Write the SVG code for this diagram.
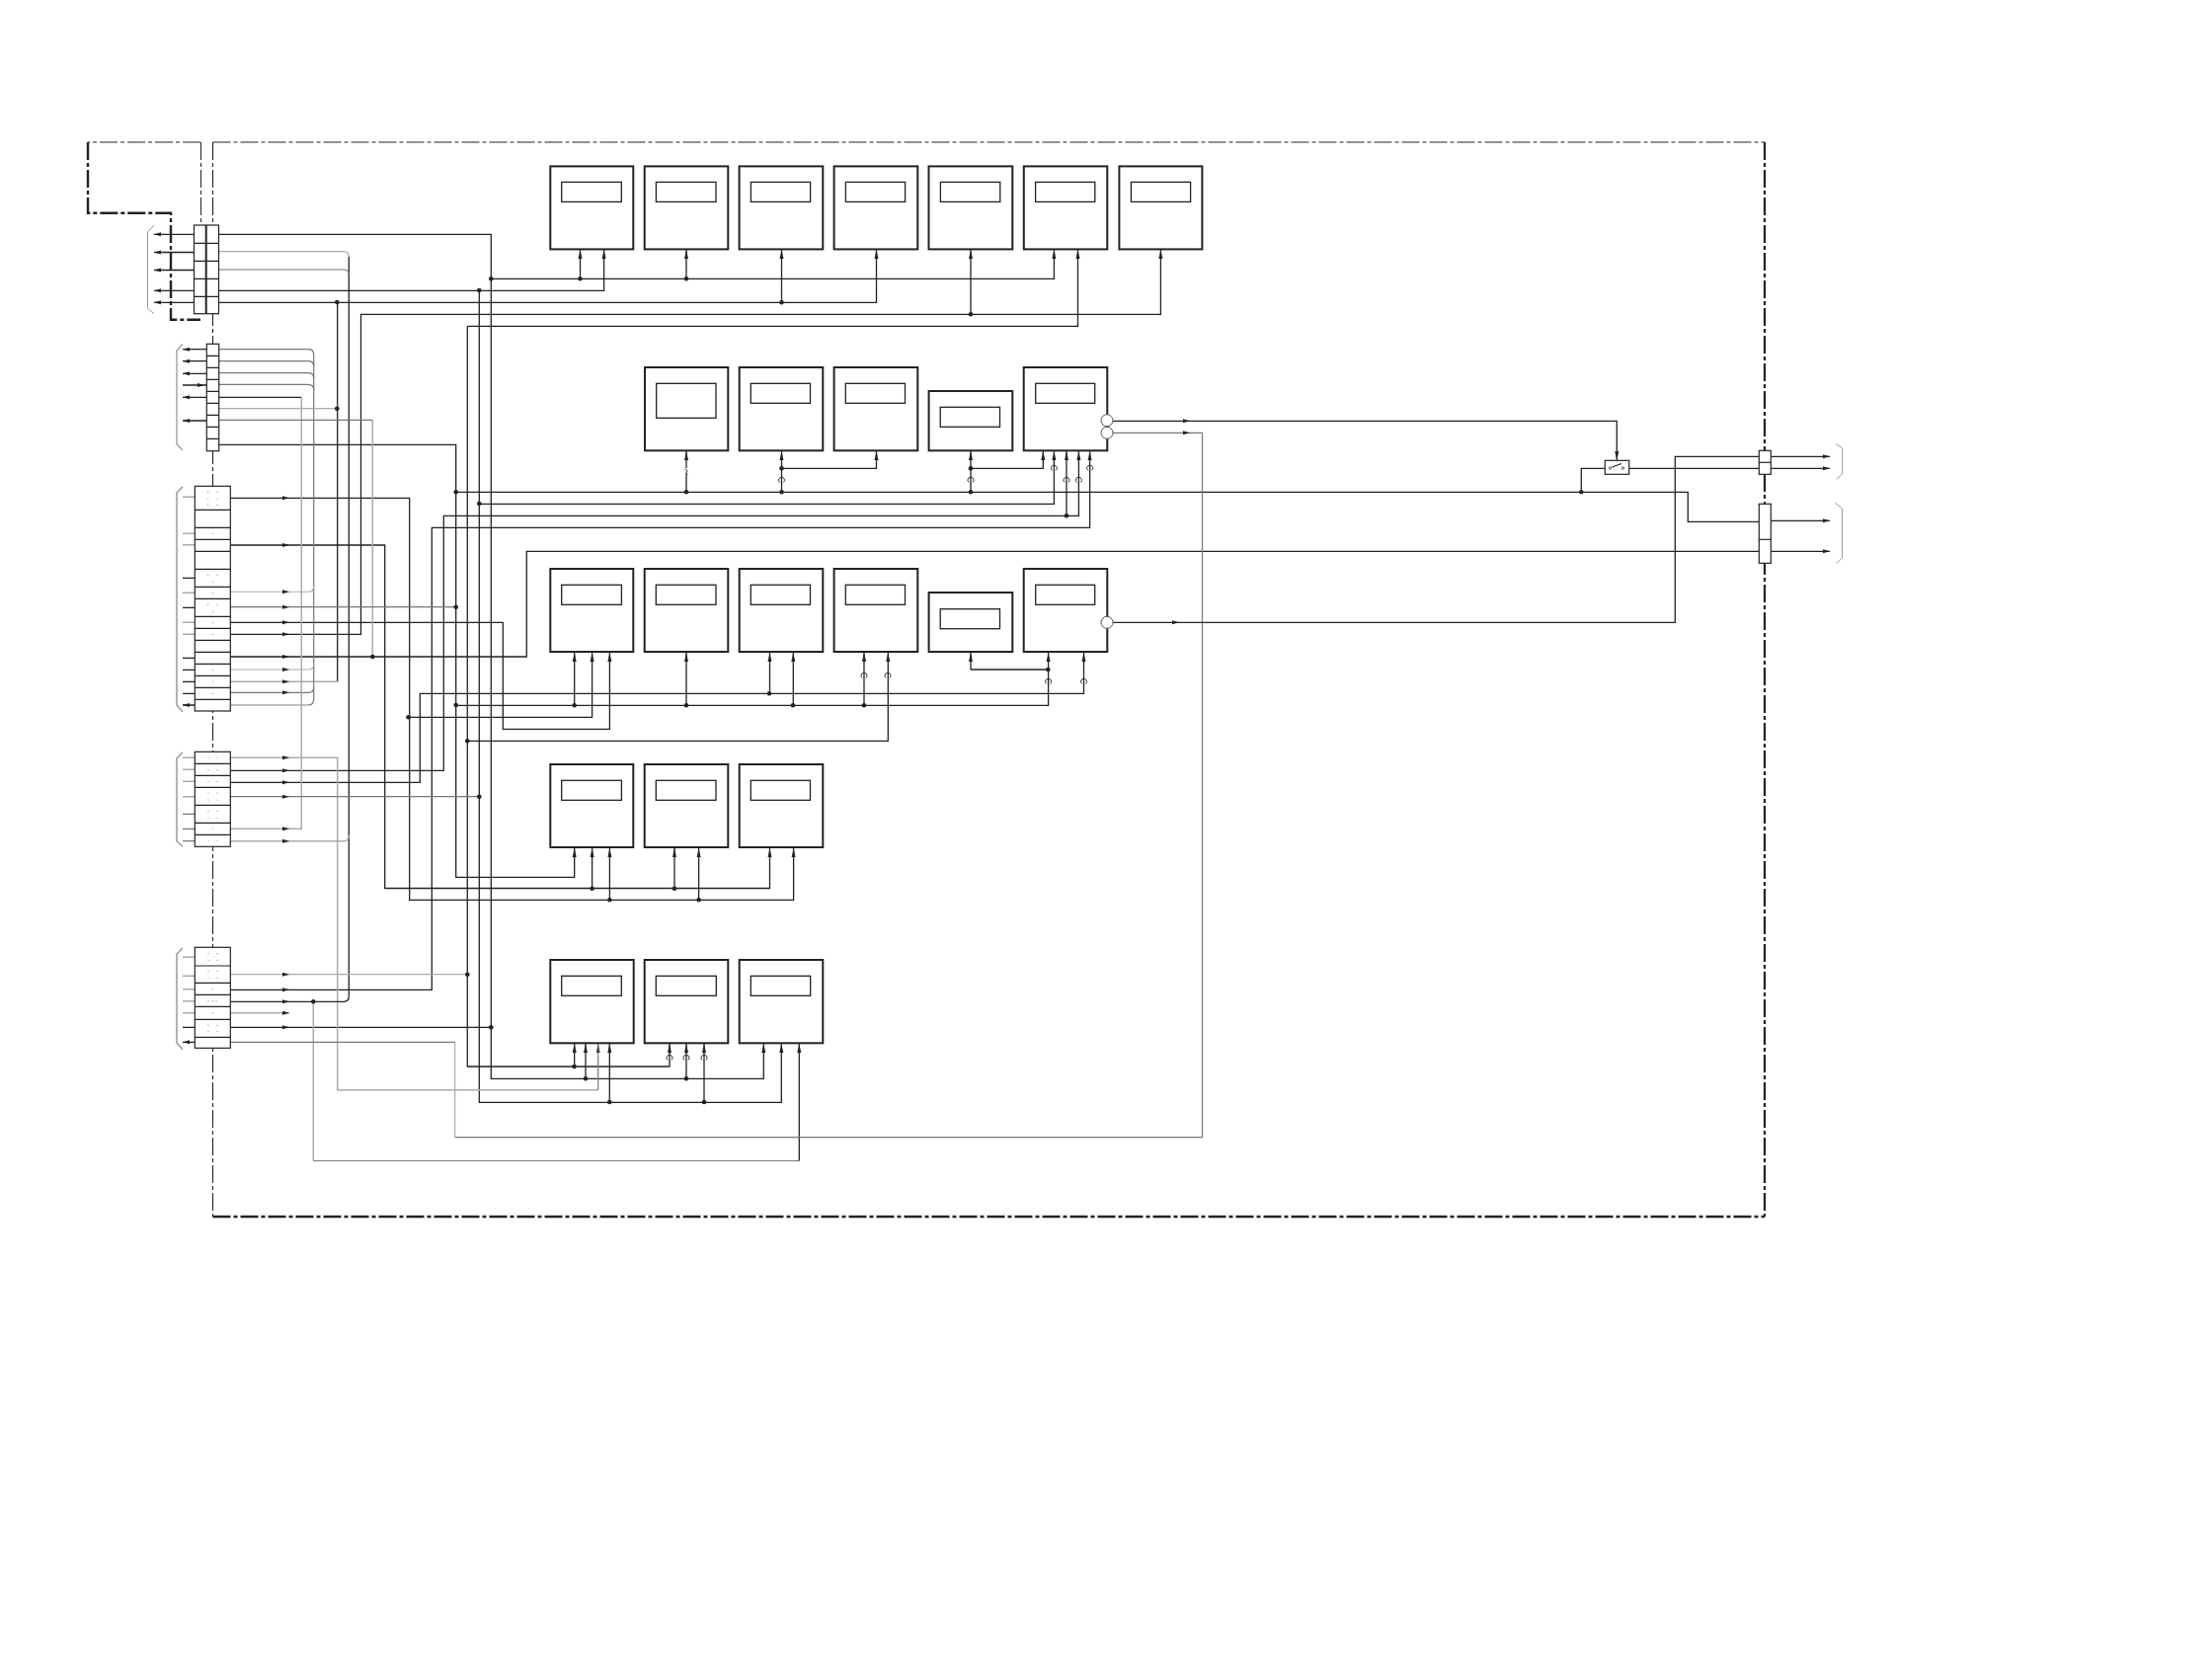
<svg xmlns="http://www.w3.org/2000/svg" width="2240" height="1684" viewBox="0 0 2240 1684">
<style>
.bg{fill:#fff}
.box{fill:#fff;stroke:#222;stroke-width:2}
.in{fill:#fff;stroke:#222;stroke-width:1.3}
.cell{fill:#fff;stroke:#222;stroke-width:1.2}
.w{fill:none;stroke:#222;stroke-width:1.3}
.g1{fill:none;stroke:#aaa;stroke-width:1.5}
.g2{fill:none;stroke:#777;stroke-width:1.2}
.br{fill:none;stroke:#999;stroke-width:1}
.dash{fill:none;stroke:#222;stroke-dasharray:18 3 4 3}
.hop{fill:none;stroke:#333;stroke-width:1}
.ah{fill:#222}
.d{fill:#222}
.spk{fill:none;stroke:#888;stroke-width:1.2;stroke-linecap:round}
.circ{fill:#fff;stroke:#555;stroke-width:1}
</style>
<defs>
<marker id="u" markerUnits="userSpaceOnUse" markerWidth="10" markerHeight="6" refX="9" refY="3" orient="auto"><path d="M0,1 L9,3 L0,5Z" fill="#222"/></marker>
<marker id="uG" markerUnits="userSpaceOnUse" markerWidth="10" markerHeight="6" refX="9" refY="3" orient="auto"><path d="M0,1 L9,3 L0,5Z" fill="#444"/></marker>
<path id="R" class="ah" d="M-7,-2 L0,0 L-7,2Z"/>
<path id="L" class="ah" d="M7,-2 L0,0 L7,2Z"/>
<path id="H" class="hop" d="M-2,2.4 A3,3 0 1 1 2,2.4"/>
<circle id="D" class="d" r="2.3"/>
</defs>
<rect class="bg" width="2240" height="1684"/>

<g id="boundaries">
<path class="dash" stroke-width="1.2" d="M215.5,144 H1787"/>
<path class="dash" stroke-width="2.2" d="M1787,144 V1232"/>
<path class="dash" stroke-width="2.4" d="M215.5,1232 H1787"/>
<path class="dash" stroke-width="1.1" d="M215.5,144 V1232"/>
<path class="dash" stroke-width="1.2" d="M203,144 H89"/>
<path class="dash" stroke-width="2.4" d="M89,144 V215.7 H173 V323.7 H203"/>
<path class="dash" stroke-width="1" d="M203.5,144 V228"/>
<path class="br" d="M156,228 L149.5,235 V312 L156,318"/>
<path class="br" style="stroke-width:1.3" d="M185,348.5 L179,355 V450 L185,456"/>
<path class="br" style="stroke-width:1.5" d="M185,492.7 L179,499 V714 L185,720.7"/>
<path class="br" style="stroke-width:1.5" d="M185,761.7 L179,768 V851.7 L185,857.3"/>
<path class="br" style="stroke-width:1.5" d="M185,960 L179,966 V1056 L185,1062.7"/>
<path class="br" d="M1859,449.3 L1865.7,454 V480 L1859.7,485.3"/>
<path class="br" d="M1858.5,509.3 L1865.5,515 V565 L1859.7,570.3"/>
</g>

<g id="connectors">
<path class="w" marker-end="url(#u)" d="M221.5,237.3 H497.3 V1092.3 H773.3 V1057"/>
<path class="w" marker-end="url(#u)" d="M497.3,282.3 H1067.4 V253"/>
<path class="w" marker-end="url(#u)" d="M587.5,282.3 V253"/>
<path class="w" marker-end="url(#u)" d="M695,282.3 V253"/>
<path class="w" marker-end="url(#u)" d="M221.5,294.3 H611.6 V253"/>
<path class="w" marker-end="url(#u)" d="M485.3,294.3 V1116.3 H791.3 V1057"/>
<path class="w" marker-end="url(#u)" d="M221.5,306.3 H887.5 V253"/>
<path class="w" marker-end="url(#u)" d="M791.5,306.3 V253"/>
<path class="w" d="M341.7,306.3 V690.3"/>
<path class="g1" d="M341.7,690.3 H233.3"/>
<path class="w" marker-end="url(#u)" d="M233.3,642.3 H365.5 V318.3 H1175.4 V253"/>
<path class="w" marker-end="url(#u)" d="M983,318.3 V253"/>
<path class="w" marker-end="url(#u)" d="M473.3,330.3 H1091.5 V253"/>
<path class="w" marker-end="url(#u)" d="M473.3,330.3 V1080 H678 V1057"/>
<path class="w" marker-end="url(#u)" d="M221.7,450.3 H461.7 V888.3 H581.7 V859"/>
<path class="w" d="M461.7,498.3 H1709.3 V528.3 H1781"/>
<path class="w" marker-end="url(#u)" d="M695,498.3 V457"/>
<path class="w" marker-end="url(#u)" d="M791.5,498.3 V457"/>
<path class="w" marker-end="url(#u)" d="M791.5,474.3 H887.5 V457"/>
<path class="w" marker-end="url(#u)" d="M983,498.3 V457"/>
<path class="w" marker-end="url(#u)" d="M983,474.3 H1056.3 V457"/>
<path class="w" marker-end="url(#u)" d="M485.3,510.3 H1067.4 V457"/>
<path class="w" marker-end="url(#u)" d="M233.3,780.3 H449.3 V522.3 H1092.4 V457"/>
<path class="w" marker-end="url(#u)" d="M1080,522.3 V457"/>
<path class="w" marker-end="url(#u)" d="M233.3,1002.3 H437.3 V534.3 H1103.6 V457"/>
<path class="w" d="M233.3,665 H533.3 V558.3 H1781"/>
<path class="w" marker-end="url(#u)" d="M233.3,792.3 H425.3 V702.3 H1097.5 V661"/>
<path class="w" marker-end="url(#u)" d="M779.5,702.3 V661"/>
<path class="w" marker-end="url(#u)" d="M233.3,630.3 H509.3 V738.3 H617.4 V661"/>
<path class="w" marker-end="url(#u)" d="M414.7,726.3 H599.6 V661"/>
<path class="w" marker-end="url(#u)" d="M461.7,714.3 H1061.6 V661"/>
<path class="w" marker-end="url(#u)" d="M581.7,714.3 V661"/>
<path class="w" marker-end="url(#u)" d="M695,714.3 V661"/>
<path class="w" marker-end="url(#u)" d="M803.3,714.3 V661"/>
<path class="w" marker-end="url(#u)" d="M875,714.3 V661"/>
<path class="w" marker-end="url(#u)" d="M473.3,750.3 H899.3 V661"/>
<path class="w" d="M983,678 H1061.6"/>
<path class="w" marker-end="url(#u)" d="M983,678 V661"/>
<path class="w" marker-end="url(#u)" d="M233.3,552 H389.7 V899.5 H779.5 V859"/>
<path class="w" marker-end="url(#u)" d="M599.6,899.5 V859"/>
<path class="w" marker-end="url(#u)" d="M683,899.5 V859"/>
<path class="w" marker-end="url(#u)" d="M233.3,504.3 H414.7 V911.3 H803.6 V859"/>
<path class="w" marker-end="url(#u)" d="M617.4,911.3 V859"/>
<path class="w" marker-end="url(#u)" d="M707.6,911.3 V859"/>
<path class="w" marker-end="url(#u)" d="M581.7,1080 V1057"/>
<path class="w" marker-end="url(#u)" d="M593,1092.3 V1057"/>
<path class="w" marker-end="url(#u)" d="M617.3,1116.3 V1057"/>
<path class="w" marker-end="url(#u)" d="M695,1092.3 V1057"/>
<path class="w" marker-end="url(#u)" d="M713,1116.3 V1057"/>
<path class="w" d="M233.3,1040.3 H497.3"/>
<path class="w" marker-end="url(#u)" d="M809.3,1175.5 V1057"/>
<path class="g2" marker-end="url(#uG)" d="M605.7,1104 V1057"/>
<path class="g1" d="M233.3,767.3 H341.7 V1103.8 H605.7"/>
<path class="g1" d="M317.3,1014.3 V1175.5"/>
<path class="g2" d="M317.3,1175.5 H809.3"/>
<path class="w" d="M353.3,260 V1009 Q353.3,1014.3 348,1014.3 H233.3"/>
<path class="g1" style="stroke-width:1.2" d="M221.5,254.7 H348 Q353.3,254.7 353.3,260"/>
<path class="g2" d="M221.5,273 H348 Q353.3,273 353.3,278"/>
<path class="g1" d="M233.3,851.7 H348 Q353.3,851.7 353.3,846"/>
<path class="g2" d="M221.7,353.7 H312 Q317.7,353.7 317.7,359 V708 Q317.7,714 312,714"/>
<path class="g2" d="M221.7,365.7 H312 Q317.7,365.7 317.7,371"/>
<path class="g2" d="M221.7,377.7 H312 Q317.7,377.7 317.7,383"/>
<path class="g2" d="M221.7,389.3 H312 Q317.7,389.3 317.7,395"/>
<path class="g1" style="stroke-width:1.1" d="M233.3,599.3 H312 Q317.7,599.3 317.7,594"/>
<path class="g1" style="stroke-width:1.1" d="M233.3,678 H312 Q317.7,678 317.7,673"/>
<path class="g2" d="M233.3,701.3 H312 Q317.7,701.3 317.7,696"/>
<path class="g1" d="M233.3,714 H312"/>
<path class="w" d="M221.7,402.3 H305.3"/>
<path class="g1" d="M305.3,402.3 V839.3 H233.3"/>
<path class="g1" style="stroke-width:1.2" d="M221.7,413.7 H341.3"/>
<path class="g2" d="M221.7,425.3 H377.3"/>
<path class="g1" d="M377.3,425.3 V665"/>
<path class="g2" d="M233.3,614.7 H461.7"/>
<path class="g2" d="M233.3,806.7 H485.3"/>
<path class="g1" style="stroke-width:1.2" d="M233.3,986.7 H473.3"/>
<path class="g1" d="M233.3,1025.7 H293"/>
<path class="w" marker-end="url(#u)" d="M1127,426.3 H1637.3 V466"/>
<path class="g2" d="M1127,438.3 H1217.5 V1151.7 H460.7"/>
<path class="g1" style="stroke-width:1.2" d="M460.7,1151.7 V1055.3"/>
<path class="g2" d="M460.7,1055.3 H233.3"/>
<path class="w" d="M1127,630.3 H1696.3 V462.3 H1781"/>
<path class="w" d="M1649.7,474.3 H1781"/>
<path class="w" d="M1625.3,474.3 H1601.3 V498.3"/>
<path class="w" d="M1793,462.3 H1853 M1793,474.3 H1853 M1793,527.3 H1853 M1793,558.3 H1853"/>
<path class="w" d="M156,237.3 H196.5 M156,255.5 H196.5 M156,273.5 H196.5 M156,294.3 H196.5 M156,306.3 H196.5"/>
<path class="w" d="M185,353.7 H209.3 M185,365.7 H209.3 M185,378.3 H209.3 M185,390 H209.3 M185,402.3 H209.3 M185,426 H209.3"/>
<path class="g1" d="M185,503.3 H197.3 M185,540.3 H197.3 M185,551.7 H197.3 M185,600.3 H197.3 M185,630.3 H197.3 M185,642.3 H197.3 M185,767.3 H197.3 M185,779.3 H197.3 M185,791.3 H197.3 M185,806.7 H197.3 M185,969.3 H197.3 M185,988.3 H197.3 M185,1001.7 H197.3 M185,1013.7 H197.3 M185,1025.7 H197.3"/>
<path class="w" d="M185,585.3 H197.3 M185,615.3 H197.3 M185,666.3 H197.3 M185,678.3 H197.3 M185,690.3 H197.3 M185,702.3 H197.3 M185,714 H197.3 M185,1040.3 H197.3 M185,1055.3 H197.3"/>
<path class="g2" d="M185,824.3 H197.3 M185,839.3 H197.3 M185,851.7 H197.3"/>
<g id="junctions">
<use href="#D" x="497.3" y="282.3"/><use href="#D" x="485.3" y="294"/><use href="#D" x="341.3" y="306"/><use href="#D" x="341.3" y="413.7"/>
<use href="#D" x="587.5" y="282.3"/><use href="#D" x="695" y="282.3"/><use href="#D" x="791.5" y="306.3"/><use href="#D" x="983" y="318.3"/>
<use href="#D" x="461.7" y="498.3"/><use href="#D" x="485.3" y="510"/><use href="#D" x="461.7" y="614.7"/><use href="#D" x="377.3" y="665"/><use href="#D" x="461.7" y="714"/><use href="#D" x="413.5" y="726.2"/><use href="#D" x="473.3" y="750.3"/><use href="#D" x="485.3" y="806.7"/>
<use href="#D" x="473.3" y="986.7"/><use href="#D" x="317.3" y="1014.3"/><use href="#D" x="497.3" y="1040.3"/>
<use href="#D" x="695" y="498.3"/><use href="#D" x="791.5" y="498.3"/><use href="#D" x="983" y="498.3"/><use href="#D" x="791.5" y="474.3"/><use href="#D" x="983" y="474.3"/><use href="#D" x="1080" y="522.3"/><use href="#D" x="1601.3" y="498.3"/>
<use href="#D" x="581.7" y="714.3"/><use href="#D" x="695" y="714.3"/><use href="#D" x="803" y="714.3"/><use href="#D" x="875" y="714.3"/><use href="#D" x="779" y="702.3"/><use href="#D" x="1061.3" y="678"/>
<use href="#D" x="599.6" y="899.7"/><use href="#D" x="683" y="899.7"/><use href="#D" x="617.4" y="911.3"/><use href="#D" x="707.6" y="911.3"/>
<use href="#D" x="581.5" y="1080"/><use href="#D" x="593" y="1092.3"/><use href="#D" x="695" y="1092.3"/><use href="#D" x="617.3" y="1116"/><use href="#D" x="713" y="1116"/>
</g>
<g id="hops">
<use href="#H" x="791.5" y="486"/><use href="#H" x="983" y="486"/><use href="#H" x="1067.4" y="474"/><use href="#H" x="1080" y="486"/><use href="#H" x="1092.4" y="486"/><use href="#H" x="1103.6" y="474"/>
<use href="#H" x="875" y="684"/><use href="#H" x="899" y="684"/><use href="#H" x="1061.6" y="690"/><use href="#H" x="1097.5" y="690"/>
<use href="#H" x="678" y="1071"/><use href="#H" x="695" y="1071"/><use href="#H" x="713" y="1071"/>
<path class="bg" d="M693,474h4v6h-4Z"/>
<path class="hop" d="M693.5,475 Q697,476 695.5,478 Q693,479.5 696.5,480"/>
</g>
<g id="flow-arrows">
<use href="#L" x="156" y="237.3"/><use href="#L" x="156" y="255.5"/><use href="#L" x="156" y="273.5"/><use href="#L" x="156" y="294.3"/><use href="#L" x="156" y="306.3"/>
<use href="#L" x="185" y="353.7"/><use href="#L" x="185" y="365.7"/><use href="#L" x="185" y="378.3"/><use href="#R" x="207" y="390"/><use href="#L" x="185" y="402.3"/><use href="#L" x="185" y="426"/>
<use href="#L" x="185" y="714"/><use href="#L" x="185" y="1055.3"/>
<use href="#R" x="293" y="504.3"/><use href="#R" x="293" y="552"/><use href="#R" x="293" y="599.3"/><use href="#R" x="293" y="614.7"/><use href="#R" x="293" y="630.3"/><use href="#R" x="293" y="642.3"/><use href="#R" x="293" y="665"/><use href="#R" x="293" y="678"/><use href="#R" x="293" y="690.3"/><use href="#R" x="293" y="701.3"/>
<use href="#R" x="293" y="767.3"/><use href="#R" x="293" y="780.3"/><use href="#R" x="293" y="792.3"/><use href="#R" x="293" y="806.7"/><use href="#R" x="293" y="839.3"/><use href="#R" x="293" y="851.7"/>
<use href="#R" x="293" y="986.7"/><use href="#R" x="293" y="1002.3"/><use href="#R" x="293" y="1014.3"/><use href="#R" x="293" y="1025.7"/><use href="#R" x="293" y="1040.3"/>
<use href="#R" x="1205" y="426.3"/><use href="#R" x="1205" y="438.3"/><use href="#R" x="1194" y="630.3"/>
<use href="#R" x="1853" y="462.3"/><use href="#R" x="1853" y="474.3"/><use href="#R" x="1853" y="527.3"/><use href="#R" x="1853" y="558.3"/>
</g>
</g>

<g id="block-1"><rect class="cell" x="196.5" y="228" width="25" height="89.7"/><path class="cell" d="M196.5,246.3 H221.5 M196.5,264.3 H221.5 M196.5,282.3 H221.5 M196.5,300.3 H221.5"/><path class="w" style="stroke-width:2" d="M208.7,228 V317.7"/></g>
<g id="block-2"><rect class="cell" x="209.3" y="348.3" width="12.4" height="108.4"/><path class="cell" d="M209.3,360.3 H221.7 M209.3,372.3 H221.7 M209.3,384.3 H221.7 M209.3,396.3 H221.7 M209.3,408.3 H221.7 M209.3,420.3 H221.7 M209.3,432.3 H221.7 M209.3,444.3 H221.7"/></g>
<g id="block-3"><rect class="cell" x="197.3" y="492.3" width="36" height="227.7"/><path class="cell" d="M197.3,516.3 H233.3 M197.3,534.3 H233.3 M197.3,546.3 H233.3 M197.3,558.3 H233.3 M197.3,576.3 H233.3 M197.3,594.3 H233.3 M197.3,606.3 H233.3 M197.3,624.3 H233.3 M197.3,636.3 H233.3 M197.3,648.3 H233.3 M197.3,660.3 H233.3 M197.3,672.3 H233.3 M197.3,684.3 H233.3 M197.3,696.3 H233.3 M197.3,708.3 H233.3"/>
<path class="spk" d="M210.7,498.3h.01M220,498.3h.01M210.7,505h.01M220,505h.01M210.7,511.3h.01M220,511.3h.01M215.3,540.3h.01M210.7,582.3h.01M220,582.3h.01M215.3,589.3h.01M215.3,600.3h.01M210.7,612.3h.01M220,612.3h.01M215.3,619.7h.01M215.3,630.3h.01M215.3,642.3h.01M215.3,678.3h.01M215.3,690.3h.01M215.3,702.3h.01"/></g>
<g id="block-4"><rect class="cell" x="197.3" y="761.3" width="36" height="96"/><path class="cell" d="M197.3,773.3 H233.3 M197.3,785.3 H233.3 M197.3,797.3 H233.3 M197.3,815.3 H233.3 M197.3,833.3 H233.3 M197.3,845.3 H233.3"/>
<path class="spk" d="M211,767h.01M220,767h.01M211,779.7h.01M220,779.7h.01M211,791.3h.01M220,791.3h.01M211,803h.01M220,803h.01M211,810h.01M220,810h.01M211,821.3h.01M220,821.3h.01M211,828h.01M220,828h.01M215.3,839h.01M211,851h.01M220,851h.01"/></g>
<g id="block-5"><rect class="cell" x="197.3" y="959.3" width="36" height="102"/><path class="cell" d="M197.3,978 H233.3 M197.3,995.3 H233.3 M197.3,1007.3 H233.3 M197.3,1019.3 H233.3 M197.3,1032.3 H233.3 M197.3,1050.3 H233.3"/>
<path class="spk" d="M211,965.7h.01M220,965.7h.01M211,972.3h.01M220,972.3h.01M211,983.3h.01M220,983.3h.01M211,990h.01M220,990h.01M215.3,1001.7h.01M211,1013.7h.01M215.3,1013.7h.01M219,1013.7h.01M215.3,1025.7h.01M211,1038h.01M220,1038h.01M211,1044.7h.01M220,1044.7h.01"/></g>

<g id="row-1">
<g id="u11"><rect class="box" x="557.3" y="168.4" width="84" height="84"/><rect class="in" x="568.7" y="184.4" width="60.6" height="20"/></g>
<g id="u12"><rect class="box" x="652.7" y="168.4" width="84.6" height="84"/><rect class="in" x="664.4" y="184.4" width="60.6" height="20"/></g>
<g id="u13"><rect class="box" x="748.6" y="168.4" width="84.7" height="84"/><rect class="in" x="760.4" y="184.4" width="60.2" height="20"/></g>
<g id="u14"><rect class="box" x="844.6" y="168.4" width="84.7" height="84"/><rect class="in" x="856.4" y="184.4" width="60.2" height="20"/></g>
<g id="u15"><rect class="box" x="940.5" y="168.4" width="84.8" height="84"/><rect class="in" x="952.4" y="184.4" width="60.4" height="20"/></g>
<g id="u16"><rect class="box" x="1036.8" y="168.4" width="84.5" height="84"/><rect class="in" x="1048.6" y="184.4" width="60.2" height="20"/></g>
<g id="u17"><rect class="box" x="1133.4" y="168.4" width="84" height="84"/><rect class="in" x="1145.4" y="184.4" width="60.2" height="20"/></g>
</g>
<g id="row-2">
<g id="u21"><rect class="box" x="653" y="372" width="84.3" height="84.3"/><rect class="in" x="664.7" y="388.3" width="60.3" height="35"/></g>
<g id="u22"><rect class="box" x="748.7" y="372" width="84.6" height="84.3"/><rect class="in" x="760.3" y="388.3" width="60.2" height="20"/></g>
<g id="u23"><rect class="box" x="844.6" y="372" width="84.7" height="84.3"/><rect class="in" x="856.3" y="388.3" width="60.2" height="20"/></g>
<g id="u24"><rect class="box" x="940.6" y="396" width="84.7" height="60.3"/><rect class="in" x="952.2" y="412.3" width="60.3" height="20"/></g>
<g id="u25"><rect class="box" x="1036.7" y="372" width="84.6" height="84.3"/><rect class="in" x="1048.7" y="388.3" width="60" height="20"/><circle class="circ" cx="1121" cy="425.7" r="6"/><circle class="circ" cx="1121" cy="438.3" r="6"/></g>
</g>
<g id="row-3">
<g id="u31"><rect class="box" x="557.3" y="576" width="84" height="84"/><rect class="in" x="568.7" y="592.3" width="60.7" height="20"/></g>
<g id="u32"><rect class="box" x="652.7" y="576" width="84.6" height="84"/><rect class="in" x="664.3" y="592.3" width="60.7" height="20"/></g>
<g id="u33"><rect class="box" x="748.7" y="576" width="84.6" height="84"/><rect class="in" x="760.3" y="592.3" width="60.2" height="20"/></g>
<g id="u34"><rect class="box" x="844.6" y="576" width="84.7" height="84"/><rect class="in" x="856.3" y="592.3" width="60.2" height="20"/></g>
<g id="u35"><rect class="box" x="940.6" y="600" width="84.7" height="60"/><rect class="in" x="952.2" y="616.7" width="60.3" height="20"/></g>
<g id="u36"><rect class="box" x="1036.7" y="576" width="84.6" height="84"/><rect class="in" x="1048.7" y="592.3" width="60" height="20"/><circle class="circ" cx="1121" cy="630.3" r="6"/></g>
</g>
<g id="row-4">
<g id="u41"><rect class="box" x="557.3" y="774" width="84" height="84"/><rect class="in" x="568.7" y="790.3" width="60.7" height="20"/></g>
<g id="u42"><rect class="box" x="652.7" y="774" width="84.6" height="84"/><rect class="in" x="664.3" y="790.3" width="60.7" height="20"/></g>
<g id="u43"><rect class="box" x="748.7" y="774" width="84.6" height="84"/><rect class="in" x="760.3" y="790.3" width="60.2" height="20"/></g>
</g>
<g id="row-5">
<g id="u51"><rect class="box" x="557.3" y="972" width="84.4" height="84.3"/><rect class="in" x="568.7" y="988.3" width="60.6" height="20"/></g>
<g id="u52"><rect class="box" x="652.7" y="972" width="84.6" height="84.3"/><rect class="in" x="664.3" y="988.3" width="61" height="20"/></g>
<g id="u53"><rect class="box" x="748.7" y="972" width="84.6" height="84.3"/><rect class="in" x="760.3" y="988.3" width="60.4" height="20"/></g>
</g>
<g id="switch"><rect class="cell" x="1625.3" y="466.3" width="24.4" height="14"/><circle cx="1630.5" cy="474" r="1.2" fill="none" stroke="#333" stroke-width=".8"/><circle cx="1643.5" cy="474" r="1.2" fill="none" stroke="#333" stroke-width=".8"/><path class="w" d="M1632.5,473 L1642,469.5"/></g>
<g id="conn-r1"><rect class="cell" x="1781.3" y="456.3" width="12" height="24"/><path class="cell" d="M1781.3,468.3 H1793.3"/></g>
<g id="conn-r2"><rect class="cell" x="1781.3" y="510.3" width="12" height="60"/><path class="cell" d="M1781.3,546.3 H1793.3"/></g>
</svg>
